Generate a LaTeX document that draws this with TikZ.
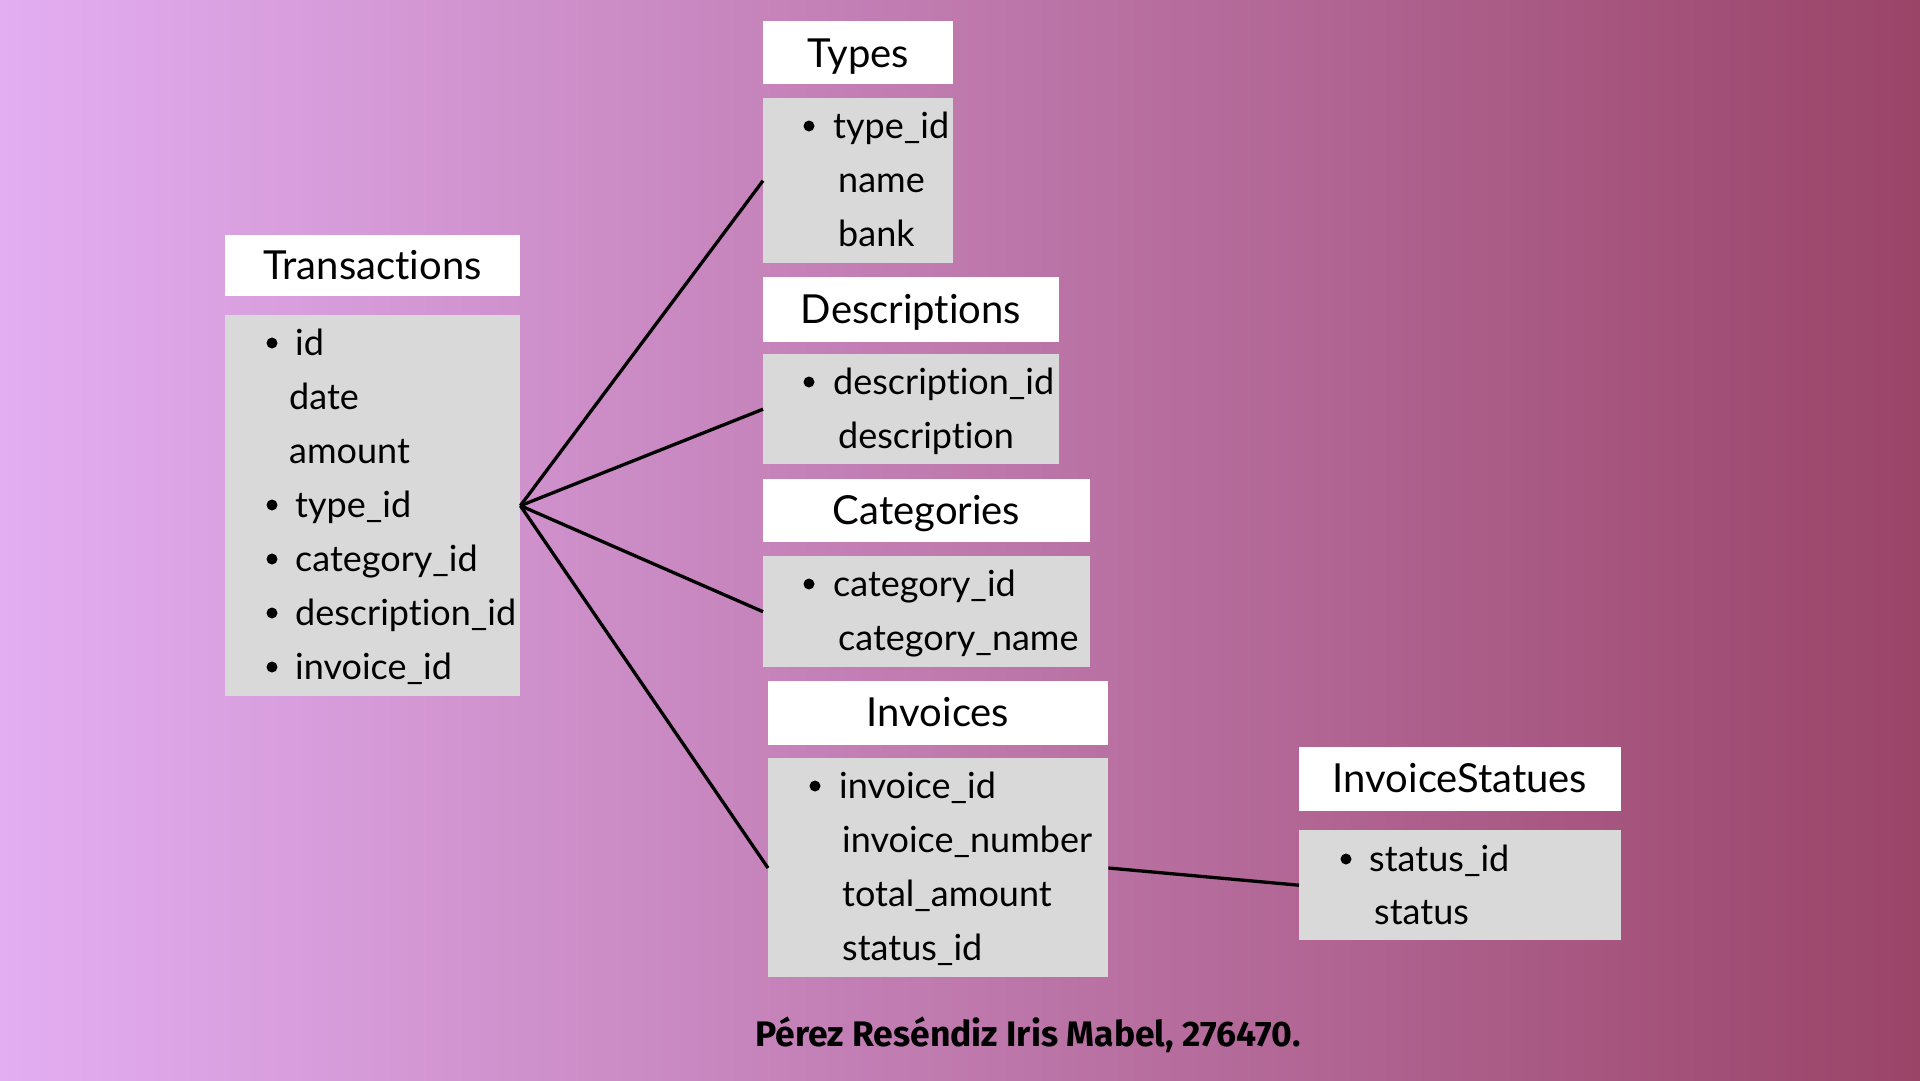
\documentclass[tikz,border=0pt]{standalone}
\usepackage{fontspec}
\setmainfont[Ligatures={NoCommon,NoRare,NoDiscretionary}]{Lato}
\newfontfamily\footfont{Fira Sans}
\definecolor{bgleft}{HTML}{E3AEF2}
\definecolor{bgright}{HTML}{9A4468}
\definecolor{bodygray}{HTML}{D9D9D9}
\begin{document}
\begin{tikzpicture}[x=1pt,y=-1pt,
  hdr/.style={fill=white, draw=none, inner sep=0pt},
  body/.style={fill=bodygray, draw=none, inner sep=0pt},
  hdrtext/.style={font=\fontsize{40}{44}\selectfont, inner sep=0pt, anchor=base},
  field/.style={font=\fontsize{36}{40}\selectfont, inner sep=0pt, anchor=base west},
  bul/.style={circle, fill=black, inner sep=0pt, minimum size=11pt},
  link/.style={line width=3.3pt, black}
]
\useasboundingbox (0,0) rectangle (1920,1080);
\shade[left color=bgleft, right color=bgright] (0,0) rectangle (1920,1080);

% boxes: header and body rectangles
\path[hdr] (225,235) rectangle (520,296);
\node[body, minimum width=295pt, minimum height=381pt, anchor=north west] (trans) at (225,315) {};
\path[hdr] (763,21) rectangle (953,84);
\node[body, minimum width=190pt, minimum height=165pt, anchor=north west] (types) at (763,98) {};
\path[hdr] (763,277) rectangle (1059,342);
\node[body, minimum width=296pt, minimum height=110pt, anchor=north west] (descr) at (763,354) {};
\path[hdr] (763,479) rectangle (1090,542);
\node[body, minimum width=327pt, minimum height=111pt, anchor=north west] (cats) at (763,556) {};
\path[hdr] (768,681) rectangle (1108,745);
\node[body, minimum width=340pt, minimum height=219pt, anchor=north west] (inv) at (768,758) {};
\path[hdr] (1299,747) rectangle (1621,811);
\node[body, minimum width=322pt, minimum height=110pt, anchor=north west] (stat) at (1299,830) {};

% header texts
\node[hdrtext] (transT) at (372.5,279) {Transactions};
\node[hdrtext] (typesT) at (858,67) {Types};
\node[hdrtext] (descrT) at (911,323) {Descriptions};
\node[hdrtext] (catsT) at (926.5,524) {Categories};
\node[hdrtext] (invT) at (938,726) {Invoices};
\node[hdrtext] (statT) at (1460,792) {InvoiceStatues};

% Transactions fields
\node[bul] (tb1) at (272,343) {};
\node[field] (tf1) at (295,355) {id};
\node[field] (tf2) at (289,409) {date};
\node[field] (tf3) at (289,463) {amount};
\node[bul] (tb4) at (272,505) {};
\node[field] (tf4) at (295,517) {type\_id};
\node[bul] (tb5) at (272,559) {};
\node[field] (tf5) at (295,571) {category\_id};
\node[bul] (tb6) at (272,613) {};
\node[field] (tf6) at (295,625) {description\_id};
\node[bul] (tb7) at (272,667) {};
\node[field] (tf7) at (295,679) {invoice\_id};

% Types fields
\node[bul] (yb1) at (809,126) {};
\node[field] (yf1) at (833,138) {type\_id};
\node[field] (yf2) at (838,192) {name};
\node[field] (yf3) at (838,246) {bank};

% Descriptions fields
\node[bul] (db1) at (809,382) {};
\node[field] (df1) at (833,394) {description\_id};
\node[field] (df2) at (838,448) {description};

% Categories fields
\node[bul] (cb1) at (809,584) {};
\node[field] (cf1) at (833,596) {category\_id};
\node[field] (cf2) at (838,650) {category\_name};

% Invoices fields
\node[bul] (ib1) at (815,786) {};
\node[field] (if1) at (839,798) {invoice\_id};
\node[field] (if2) at (842,852) {invoice\_number};
\node[field] (if3) at (842,906) {total\_amount};
\node[field] (if4) at (842,960) {status\_id};

% InvoiceStatues fields
\node[bul] (sb1) at (1346,859) {};
\node[field] (sf1) at (1369,871) {status\_id};
\node[field] (sf2) at (1374,924) {status};

% connectors
\coordinate (hub) at (trans.east);
\draw[link] (hub) -- (types.west);
\draw[link] (hub) -- (descr.west);
\draw[link] (hub) -- (cats.west);
\draw[link] (hub) -- ([yshift=-110pt]inv.north west);
\draw[link] ([yshift=-110pt]inv.north east) -- (stat.west);

% footer
\node[font=\footfont\bfseries\fontsize{35.5}{40}\selectfont, inner sep=0pt, anchor=base] (foot) at (1028,1046) {Pérez Reséndiz Iris Mabel, 276470.};
\end{tikzpicture}
\end{document}
